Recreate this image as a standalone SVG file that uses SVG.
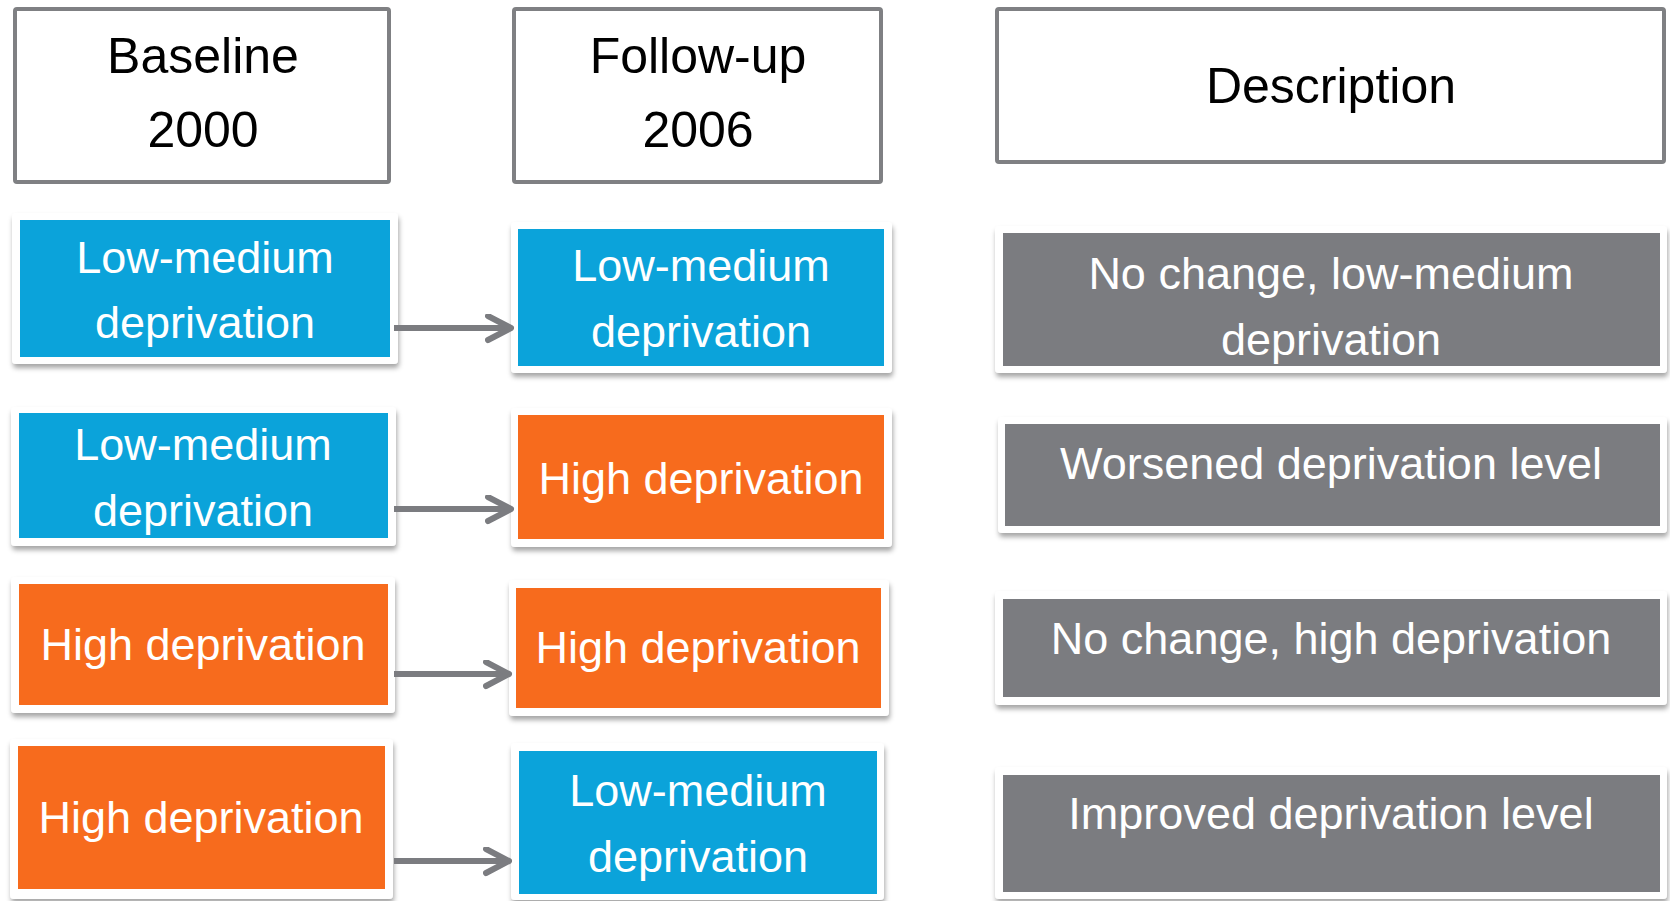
<svg xmlns="http://www.w3.org/2000/svg" width="1670" height="901" viewBox="0 0 1670 901">
<style>
.hdr{fill:#fff;stroke:#7f8083;stroke-width:4}
.frame{fill:#fff;filter:url(#sh)}
.blue{fill:#0ba3da}
.orange{fill:#f76b1d}
.gray{fill:#7b7c80}
.ht{font-family:"Liberation Sans",Arial,sans-serif;font-size:50px;fill:#000;text-anchor:middle}
.bt{font-family:"Liberation Sans",Arial,sans-serif;font-size:45px;fill:#fff;text-anchor:middle}
.conn{stroke:#7b7c80;stroke-width:6;fill:none;marker-end:url(#arr)}
</style>
<defs>
<filter id="sh" x="-10%" y="-10%" width="120%" height="130%">
<feDropShadow dx="1" dy="4" stdDeviation="2.5" flood-color="#000" flood-opacity="0.35"/>
</filter>
<marker id="arr" markerUnits="userSpaceOnUse" markerWidth="32" markerHeight="32" refX="26" refY="14" orient="auto">
<path d="M3,2 L26,14 L3,26" fill="none" stroke="#7b7c80" stroke-width="6" stroke-linecap="round" stroke-linejoin="round"/>
</marker>
</defs>
<rect width="1670" height="901" fill="#fff"/>

<g id="hdr-baseline">
<rect class="hdr" x="15" y="9" width="374" height="173" rx="2"/>
<text class="ht" x="203" y="73">Baseline</text>
<text class="ht" x="203" y="147">2000</text>
</g>
<g id="hdr-followup">
<rect class="hdr" x="514" y="9" width="367" height="173" rx="2"/>
<text class="ht" x="698" y="73">Follow-up</text>
<text class="ht" x="698" y="147">2006</text>
</g>
<g id="hdr-description">
<rect class="hdr" x="997" y="9" width="667" height="153" rx="2"/>
<text class="ht" x="1331" y="103">Description</text>
</g>

<g id="b1">
<rect class="frame" x="12" y="213" width="386" height="151" rx="4"/>
<rect class="blue" x="20" y="220" width="370" height="137"/>
<text class="bt" x="205" y="273">Low-medium</text>
<text class="bt" x="205" y="338">deprivation</text>
</g>
<g id="b2">
<rect class="frame" x="11" y="407" width="385" height="139" rx="4"/>
<rect class="blue" x="19" y="413" width="369" height="125"/>
<text class="bt" x="203" y="460">Low-medium</text>
<text class="bt" x="203" y="526">deprivation</text>
</g>
<g id="b3">
<rect class="frame" x="11" y="577" width="384" height="136" rx="4"/>
<rect class="orange" x="19" y="584" width="369" height="121"/>
<text class="bt" x="203" y="660">High deprivation</text>
</g>
<g id="b4">
<rect class="frame" x="10" y="739" width="383" height="160" rx="4"/>
<rect class="orange" x="18" y="746" width="367" height="143"/>
<text class="bt" x="201" y="833">High deprivation</text>
</g>

<g id="f1">
<rect class="frame" x="511" y="222" width="381" height="151" rx="4"/>
<rect class="blue" x="518" y="229" width="366" height="137"/>
<text class="bt" x="701" y="281">Low-medium</text>
<text class="bt" x="701" y="347">deprivation</text>
</g>
<g id="f2">
<rect class="frame" x="511" y="408" width="381" height="139" rx="4"/>
<rect class="orange" x="518" y="415" width="366" height="124"/>
<text class="bt" x="701" y="494">High deprivation</text>
</g>
<g id="f3">
<rect class="frame" x="509" y="580" width="380" height="136" rx="4"/>
<rect class="orange" x="516" y="588" width="365" height="120"/>
<text class="bt" x="698" y="663">High deprivation</text>
</g>
<g id="f4">
<rect class="frame" x="511" y="743" width="373" height="157" rx="4"/>
<rect class="blue" x="519" y="751" width="358" height="143"/>
<text class="bt" x="698" y="806">Low-medium</text>
<text class="bt" x="698" y="872">deprivation</text>
</g>

<g id="d1">
<rect class="frame" x="995" y="226" width="672" height="147" rx="4"/>
<rect class="gray" x="1003" y="233" width="657" height="133"/>
<text class="bt" x="1331" y="289">No change, low-medium</text>
<text class="bt" x="1331" y="355">deprivation</text>
</g>
<g id="d2">
<rect class="frame" x="998" y="417" width="669" height="116" rx="4"/>
<rect class="gray" x="1005" y="424" width="655" height="102"/>
<text class="bt" x="1331" y="479">Worsened deprivation level</text>
</g>
<g id="d3">
<rect class="frame" x="995" y="591" width="672" height="114" rx="4"/>
<rect class="gray" x="1003" y="599" width="657" height="98"/>
<text class="bt" x="1331" y="654">No change, high deprivation</text>
</g>
<g id="d4">
<rect class="frame" x="995" y="767" width="672" height="132" rx="4"/>
<rect class="gray" x="1003" y="775" width="657" height="117"/>
<text class="bt" x="1331" y="829">Improved deprivation level</text>
</g>

<g id="connectors">
<line class="conn" x1="394" y1="328" x2="511" y2="328"/>
<line class="conn" x1="394" y1="509" x2="511" y2="509"/>
<line class="conn" x1="394" y1="674" x2="509" y2="674"/>
<line class="conn" x1="394" y1="861" x2="509" y2="861"/>
</g>
</svg>
